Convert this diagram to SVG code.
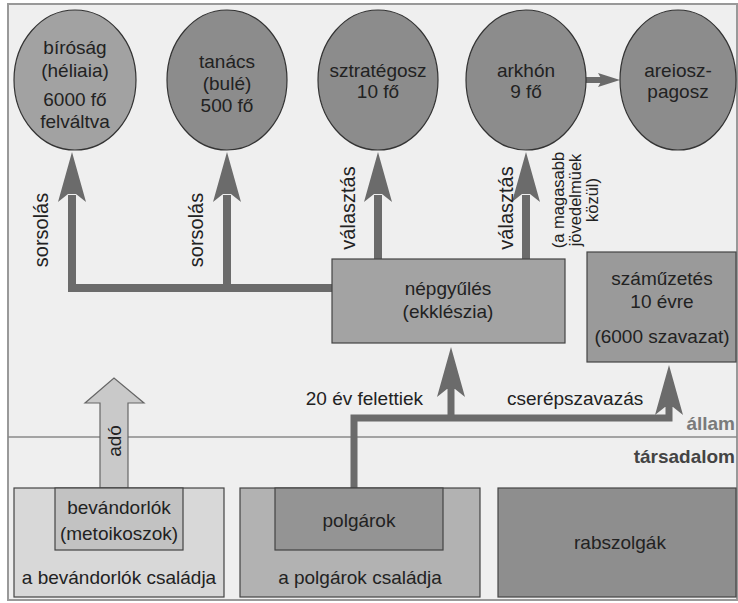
<svg xmlns="http://www.w3.org/2000/svg" width="738" height="603" viewBox="0 0 738 603">
<defs>
<style>
text{font-family:"Liberation Sans",Arial,sans-serif;font-size:19px;fill:#222;text-anchor:middle}
.sm{font-size:16.5px}
.rl{font-size:20px}
.st{fill:#7a7a7a;font-weight:bold;text-anchor:end}
.so{fill:#444;font-weight:bold;text-anchor:end}
.circ{stroke:#333;stroke-width:1.2}
.box{stroke:#444;stroke-width:1.2}
.conn{fill:none;stroke:#6b6b6b;stroke-width:8;stroke-linejoin:miter}
.head{fill:#6b6b6b}
</style>
<polygon id="h" points="0,0 14,50 4,42 -4,42 -14,50"/>
</defs>
<rect x="0" y="0" width="738" height="603" fill="#fff"/>
<rect x="8" y="4" width="729" height="596" fill="#efefef" stroke="#999" stroke-width="2"/>
<line x1="8" y1="437" x2="737" y2="437" stroke="#8a8a8a" stroke-width="1.5"/>
<text class="st" x="735" y="430">állam</text>
<text class="so" x="735" y="463">társadalom</text>

<g id="connectors">
<path class="conn" d="M333 288 H72 V195"/>
<path class="conn" d="M227 288 V195"/>
<path class="conn" d="M378 260 V195"/>
<path class="conn" d="M526 260 V195"/>
<use href="#h" class="head" x="72" y="152"/>
<use href="#h" class="head" x="227" y="152"/>
<use href="#h" class="head" x="378" y="152"/>
<use href="#h" class="head" x="526" y="152"/>
<path class="conn" style="stroke-width:6" d="M586 80 H604"/>
<polygon class="head" points="620,80 598,73 602,80 598,87"/>
<path class="conn" style="stroke-width:7" d="M354 488 V418 H669 V405"/>
<path class="conn" style="stroke-width:7" d="M451 418 V388"/>
<use href="#h" class="head" x="451" y="347"/>
<use href="#h" class="head" x="669" y="365"/>
<polygon points="100,488 100,403 85,403 114,378 144,403 128,403 128,488" fill="#c9c9c9" stroke="#666" stroke-width="1.2"/>
<text transform="translate(121,441) rotate(-90)">adó</text>
<text class="rl" transform="translate(48,230) rotate(-90)">sorsolás</text>
<text class="rl" transform="translate(203,230) rotate(-90)">sorsolás</text>
<text class="rl" transform="translate(355,208) rotate(-90)">választás</text>
<text class="rl" transform="translate(513,208) rotate(-90)">választás</text>
<text class="sm" transform="translate(564,200) rotate(-90)">(a magasabb</text>
<text class="sm" transform="translate(581,200) rotate(-90)">jövedelmüek</text>
<text class="sm" transform="translate(598,200) rotate(-90)">közül)</text>
<text x="423" y="405" style="text-anchor:end">20 év felettiek</text>
<text x="507" y="405" style="text-anchor:start">cserépszavazás</text>
</g>

<g id="birosag">
<ellipse class="circ" cx="75" cy="80" rx="61" ry="70" fill="#a2a2a2"/>
<text x="75" y="54">bíróság</text>
<text x="75" y="77">(héliaia)</text>
<text x="75" y="106">6000 fő</text>
<text x="75" y="128">felváltva</text>
</g>
<g id="tanacs">
<ellipse class="circ" cx="227" cy="80" rx="60" ry="70" fill="#8c8c8c"/>
<text x="227" y="68">tanács</text>
<text x="227" y="90">(bulé)</text>
<text x="227" y="112">500 fő</text>
</g>
<g id="sztrategosz">
<ellipse class="circ" cx="378" cy="80" rx="60" ry="70" fill="#8c8c8c"/>
<text x="378" y="77">sztratégosz</text>
<text x="378" y="98">10 fő</text>
</g>
<g id="arkhon">
<ellipse class="circ" cx="526" cy="80" rx="60" ry="70" fill="#8c8c8c"/>
<text x="526" y="77">arkhón</text>
<text x="526" y="98">9 fő</text>
</g>
<g id="areiopagosz">
<ellipse class="circ" cx="678" cy="80" rx="58" ry="70" fill="#8c8c8c"/>
<text x="678" y="77">areiosz-</text>
<text x="678" y="98">pagosz</text>
</g>

<g id="nepgyules">
<rect class="box" x="332" y="259" width="233" height="84" fill="#a3a3a3"/>
<text x="448" y="295">népgyűlés</text>
<text x="448" y="318">(ekklészia)</text>
</g>
<g id="szamuzetes">
<rect class="box" x="587" y="252" width="149" height="110" fill="#9a9a9a"/>
<text x="662" y="285">száműzetés</text>
<text x="662" y="308">10 évre</text>
<text x="662" y="343">(6000 szavazat)</text>
</g>

<g id="bevandorlok-csaladja">
<rect class="box" x="14" y="488" width="210" height="109" fill="#d8d8d8"/>
<text x="119" y="584">a bevándorlók családja</text>
</g>
<g id="bevandorlok">
<rect class="box" x="55" y="488" width="128" height="62" fill="#c2c2c2"/>
<text x="119" y="514">bevándorlók</text>
<text x="119" y="540">(metoikoszok)</text>
</g>
<g id="polgarok-csaladja">
<rect class="box" x="240" y="488" width="240" height="109" fill="#b2b2b2"/>
<text x="360" y="584">a polgárok családja</text>
</g>
<g id="polgarok">
<rect class="box" x="275" y="488" width="168" height="62" fill="#949494"/>
<text x="359" y="527">polgárok</text>
</g>
<g id="rabszolgak">
<rect class="box" x="498" y="488" width="238" height="109" fill="#8e8e8e"/>
<text x="620" y="549">rabszolgák</text>
</g>
</svg>
